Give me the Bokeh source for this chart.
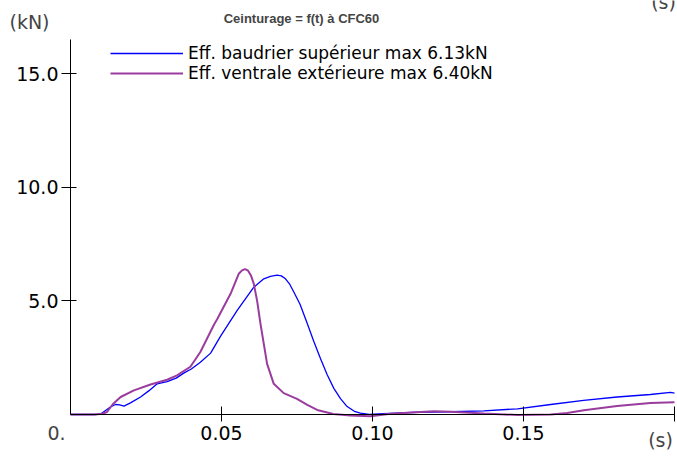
from bokeh.plotting import figure
from bokeh.models import (Range1d, FixedTicker, Label, Legend, LegendItem)
from bokeh.embed import file_html
from bokeh.resources import INLINE

# ---- data ----
blue_t = [0.0, 0.008, 0.010, 0.0132, 0.0149, 0.0163, 0.0177, 0.020, 0.0232, 0.026,
          0.0287, 0.032, 0.035, 0.0375, 0.040, 0.043, 0.0464, 0.0497, 0.0552, 0.0607,
          0.064, 0.0662, 0.0684, 0.0698, 0.0712, 0.0725, 0.0739, 0.076, 0.0784, 0.0806,
          0.0828, 0.085, 0.0872, 0.0894, 0.0916, 0.094, 0.096, 0.0989, 0.1037, 0.1148,
          0.1258, 0.1369, 0.148, 0.159, 0.1699, 0.181, 0.192, 0.1987, 0.2]
blue_f = [0.0, 0.0, 0.02, 0.33, 0.44, 0.42, 0.37, 0.52, 0.77, 1.05,
          1.35, 1.45, 1.6, 1.82, 2.0, 2.3, 2.7, 3.45, 4.58, 5.6,
          5.97, 6.08, 6.13, 6.1, 5.97, 5.75, 5.4, 4.85, 4.0, 3.2,
          2.45, 1.75, 1.15, 0.7, 0.35, 0.14, 0.06, 0.0, 0.04, 0.1,
          0.12, 0.16, 0.25, 0.44, 0.62, 0.77, 0.88, 0.97, 0.94]

purple_t = [0.0, 0.008, 0.0105, 0.0121, 0.014, 0.0166, 0.021, 0.0265, 0.032, 0.0353,
            0.0397, 0.043, 0.0475, 0.0486, 0.053, 0.0557, 0.0568, 0.0578, 0.0588, 0.0598,
            0.0607, 0.0618, 0.0629, 0.0651, 0.0673, 0.0706, 0.075, 0.0784, 0.0817, 0.087,
            0.0927, 0.0993, 0.106, 0.1203, 0.1258, 0.1369, 0.148, 0.159, 0.1645, 0.17,
            0.181, 0.192, 0.2]
purple_f = [0.0, 0.0, 0.03, 0.11, 0.45, 0.77, 1.06, 1.32, 1.53, 1.72,
            2.1, 2.75, 3.95, 4.2, 5.31, 6.19, 6.34, 6.40, 6.33, 6.1,
            5.75, 5.0, 4.0, 2.23, 1.35, 0.94, 0.69, 0.42, 0.2, 0.02,
            -0.04, -0.08, 0.03, 0.14, 0.12, 0.04, -0.02, 0.0, 0.07, 0.19,
            0.37, 0.51, 0.54]

series_labels = ["Eff. baudrier supérieur max 6.13kN",
                 "Eff. ventrale extérieure max 6.40kN"]
x_ticks = [0.05, 0.10, 0.15, 0.20]
x_tick_labels = ["0.05", "0.10", "0.15", ""]
y_ticks = [5, 10, 15]
y_tick_labels = ["5.0", "10.0", "15.0"]
title_text = "Ceinturage = f(t) à CFC60"
x_unit = "(s)"
y_unit = "(kN)"
origin_label = "0."

FONT = "DejaVu Sans"
W, H = 677, 459


# px -> data helpers (frame covers the whole canvas)
def dx(px):
    return (px - 70) * 0.2 / 604.0


def dy(py):
    return (414 - py) * 16.5 / 375.0


p = figure(width=W, height=H, output_backend="svg", toolbar_location=None,
           x_range=Range1d(dx(0), dx(W)), y_range=Range1d(dy(H), dy(0)),
           min_border=0)
p.outline_line_color = None
p.xgrid.visible = False
p.ygrid.visible = False
p.background_fill_color = "white"
p.border_fill_color = "white"

r1 = p.line(blue_t, blue_f, line_color="#0000ff", line_width=1.3)
r2 = p.line(purple_t, purple_f, line_color="#9a3c9e", line_width=2)

# axes
xa = p.xaxis[0]
xa.fixed_location = 0
xa.bounds = (0, 0.2)
xa.ticker = FixedTicker(ticks=x_ticks)
xa.major_label_overrides = {t: s for t, s in zip(x_ticks, x_tick_labels)}
xa.major_tick_in = 8
xa.major_tick_out = 7
xa.minor_tick_in = 0
xa.minor_tick_out = 0
xa.major_label_standoff = 4
xa.major_label_text_font = FONT
xa.major_label_text_font_size = "19px"
xa.major_label_text_color = "black"
xa.axis_line_color = "black"
xa.major_tick_line_color = "black"

ya = p.yaxis[0]
ya.fixed_location = 0
ya.bounds = (0, 16.5)
ya.ticker = FixedTicker(ticks=y_ticks)
ya.major_label_overrides = {t: s for t, s in zip(y_ticks, y_tick_labels)}
ya.major_tick_in = 6
ya.major_tick_out = 9
ya.minor_tick_in = 0
ya.minor_tick_out = 0
ya.major_label_standoff = 3
ya.major_label_text_font = FONT
ya.major_label_text_font_size = "19px"
ya.major_label_text_color = "black"
ya.axis_line_color = "black"
ya.major_tick_line_color = "black"

p.add_layout(Label(x=dx(301), y=dy(18), text=title_text, text_align="center",
                   text_baseline="middle", text_font="Liberation Sans",
                   text_font_style="bold", text_font_size="13px"))
p.add_layout(Label(x=dx(29), y=dy(21), text=y_unit, text_align="center",
                   text_baseline="middle", text_font=FONT, text_font_size="19px"))
p.add_layout(Label(x=dx(660), y=dy(439), text=x_unit, text_align="center",
                   text_baseline="middle", text_font=FONT, text_font_size="19px"))
p.add_layout(Label(x=dx(56), y=dy(432), text=origin_label, text_align="center",
                   text_baseline="middle", text_font=FONT, text_font_size="19px"))
p.add_layout(Label(x=dx(663), y=dy(1), text=x_unit, text_align="center",
                   text_baseline="middle", text_font=FONT, text_font_size="19px"))

legend = Legend(items=[LegendItem(label=series_labels[0], renderers=[r1]),
                       LegendItem(label=series_labels[1], renderers=[r2])],
                location=(110, 376))
legend.padding = 0
legend.margin = 0
legend.spacing = 0
legend.glyph_width = 73
legend.glyph_height = 18
legend.label_height = 18
legend.label_standoff = 5
legend.label_text_font = FONT
legend.label_text_font_size = "17px"
legend.label_text_color = "black"
legend.border_line_alpha = 0
legend.background_fill_alpha = 0
p.add_layout(legend, "center")

open("out.html", "w").write(file_html(p, INLINE))
